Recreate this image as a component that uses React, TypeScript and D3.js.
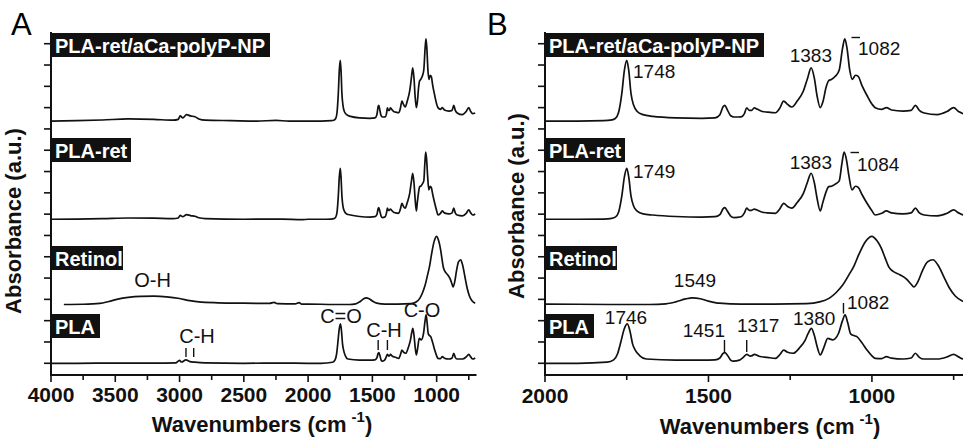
import React from 'react';
import * as d3 from 'd3';

type Pt = [number, number];

// sample names, bottom to top
const sampleNames = ['PLA', 'Retinol', 'PLA-ret', 'PLA-ret/aCa-polyP-NP'];
const sampleOffsets = [0, 2.76, 6.76, 11.37];

// spectra: [wavenumber (cm-1), absorbance above own baseline (a.u.)]
const plaSpectrum: Pt[] = [
  [4000, 0], [3800, 0], [3500, 0.01], [3200, 0.01], [3030, 0.02], [3000, 0.14], [2985, 0.06], [2950, 0.16],
  [2920, 0.08], [2880, 0.05], [2800, 0.02], [2500, 0], [2200, 0.01], [2000, 0], [1900, 0], [1810, 0.05],
  [1790, 0.16], [1778, 0.45], [1768, 1.0], [1758, 1.6], [1748, 1.85], [1740, 1.5], [1732, 0.9], [1724, 0.62],
  [1710, 0.35], [1690, 0.2], [1600, 0.15], [1520, 0.15], [1480, 0.16], [1465, 0.25], [1456, 0.45], [1450, 0.5],
  [1442, 0.38], [1432, 0.15], [1424, 0.1], [1405, 0.15], [1392, 0.3], [1383, 0.42], [1373, 0.34], [1366, 0.36],
  [1360, 0.42], [1345, 0.33], [1320, 0.28], [1295, 0.23], [1282, 0.4], [1270, 0.62], [1258, 0.52], [1241, 0.47],
  [1220, 0.75], [1204, 1.09], [1195, 1.4], [1185, 1.64], [1176, 1.3], [1167, 0.75], [1158, 0.39], [1148, 0.7],
  [1135, 1.17], [1120, 1.1], [1102, 1.41], [1090, 2.0], [1082, 2.27], [1074, 1.9], [1065, 1.38], [1055, 1.3],
  [1046, 1.25], [1030, 0.95], [1015, 0.62], [1000, 0.35], [990, 0.23], [970, 0.22], [956, 0.31], [940, 0.24],
  [905, 0.2], [880, 0.25], [867, 0.47], [855, 0.28], [842, 0.2], [800, 0.2], [770, 0.3], [750, 0.42],
  [735, 0.3], [720, 0.2], [700, 0.25],
];

const retinolSpectrum: Pt[] = [
  [3900, 0], [3750, 0.01], [3620, 0.05], [3550, 0.14], [3480, 0.25], [3400, 0.33], [3300, 0.38], [3200, 0.39],
  [3100, 0.36], [3000, 0.28], [2920, 0.18], [2850, 0.12], [2700, 0.08], [2500, 0.06], [2300, 0.05], [2265, 0.1],
  [2240, 0.04], [2100, 0.03], [2070, 0.09], [2050, 0.02], [2000, 0.02], [1800, 0], [1680, 0], [1630, 0.03],
  [1600, 0.12], [1570, 0.26], [1549, 0.31], [1525, 0.27], [1500, 0.16], [1467, 0.06], [1400, 0.02], [1300, 0.02],
  [1200, 0.04], [1160, 0.12], [1130, 0.3], [1110, 0.55], [1090, 0.9], [1070, 1.4], [1055, 1.8], [1040, 2.35],
  [1020, 2.95], [1000, 3.2], [985, 3.0], [970, 2.6], [960, 2.2], [948, 1.75], [935, 1.55], [915, 1.4],
  [895, 1.2], [880, 0.95], [872, 0.82], [860, 1.05], [845, 1.6], [830, 2.0], [813, 2.1], [798, 1.85],
  [780, 1.3], [762, 0.75], [745, 0.4], [725, 0.17], [700, 0.06],
];

const plaRetSpectrum: Pt[] = [
  [4000, 0], [3800, 0.01], [3600, 0.03], [3400, 0.06], [3200, 0.05], [3050, 0.03], [3010, 0.06], [2995, 0.18],
  [2975, 0.12], [2945, 0.22], [2915, 0.17], [2880, 0.14], [2850, 0.07], [2800, 0.03], [2500, 0], [2200, 0.01],
  [2050, -0.02], [2000, 0], [1900, 0], [1820, 0.01], [1800, 0.03], [1785, 0.1], [1775, 0.33], [1765, 1.1],
  [1757, 2.0], [1750, 2.39], [1744, 2.0], [1737, 1.1], [1729, 0.62], [1718, 0.38], [1700, 0.25], [1670, 0.2],
  [1600, 0.13], [1520, 0.1], [1480, 0.12], [1465, 0.22], [1455, 0.5], [1450, 0.55], [1443, 0.4], [1432, 0.15],
  [1422, 0.08], [1400, 0.12], [1390, 0.3], [1383, 0.52], [1375, 0.42], [1368, 0.42], [1360, 0.48], [1350, 0.42],
  [1335, 0.33], [1320, 0.3], [1295, 0.28], [1282, 0.48], [1270, 0.75], [1258, 0.6], [1245, 0.52], [1228, 0.8],
  [1210, 1.2], [1197, 1.75], [1186, 2.16], [1176, 1.7], [1168, 1.0], [1158, 0.39], [1150, 0.8], [1140, 1.3],
  [1132, 1.53], [1124, 1.55], [1112, 1.65], [1100, 1.8], [1092, 2.6], [1085, 3.15], [1078, 2.8], [1070, 2.0],
  [1061, 1.38], [1050, 1.55], [1042, 1.5], [1030, 1.15], [1015, 0.75], [1000, 0.4], [990, 0.2], [970, 0.28],
  [956, 0.39], [940, 0.3], [905, 0.25], [880, 0.3], [867, 0.52], [855, 0.3], [840, 0.2], [800, 0.16],
  [770, 0.28], [750, 0.44], [735, 0.3], [720, 0.2], [700, 0.25],
];

const compositeSpectrum: Pt[] = [
  [4000, 0], [3800, 0.02], [3600, 0.05], [3400, 0.1], [3200, 0.08], [3050, 0.04], [3010, 0.08], [2995, 0.24],
  [2975, 0.15], [2945, 0.3], [2915, 0.24], [2880, 0.2], [2850, 0.1], [2800, 0.04], [2600, 0.02], [2400, 0],
  [2250, 0.03], [2150, 0], [2000, 0], [1900, 0], [1820, 0.02], [1800, 0.04], [1785, 0.12], [1775, 0.4],
  [1765, 1.3], [1757, 2.4], [1750, 2.85], [1744, 2.4], [1737, 1.3], [1729, 0.75], [1718, 0.45], [1700, 0.3],
  [1670, 0.22], [1600, 0.15], [1520, 0.13], [1480, 0.15], [1465, 0.3], [1455, 0.68], [1450, 0.74], [1443, 0.55],
  [1432, 0.25], [1422, 0.19], [1400, 0.2], [1390, 0.35], [1383, 0.62], [1375, 0.5], [1368, 0.5], [1360, 0.62],
  [1350, 0.55], [1335, 0.45], [1320, 0.42], [1295, 0.39], [1282, 0.6], [1270, 0.94], [1258, 0.78], [1245, 0.66],
  [1228, 0.95], [1210, 1.4], [1197, 2.0], [1186, 2.5], [1176, 2.0], [1168, 1.2], [1158, 0.63], [1150, 0.9],
  [1140, 1.6], [1132, 1.9], [1124, 1.95], [1112, 2.1], [1100, 2.4], [1090, 3.4], [1083, 3.86], [1076, 3.4],
  [1068, 2.4], [1060, 1.96], [1050, 2.15], [1042, 2.1], [1030, 1.65], [1015, 1.2], [1000, 0.8], [990, 0.63],
  [970, 0.55], [956, 0.63], [940, 0.52], [905, 0.47], [880, 0.5], [867, 0.74], [855, 0.5], [840, 0.38],
  [800, 0.3], [770, 0.45], [750, 0.63], [735, 0.45], [720, 0.35], [700, 0.38],
];

const spectra = [plaSpectrum, retinolSpectrum, plaRetSpectrum, compositeSpectrum];

// axis ticks
const majorTicksA = [4000, 3500, 3000, 2500, 2000, 1500, 1000];
const minorTicksA = [3750, 3250, 2750, 2250, 1750, 1250, 750];
const majorTicksB = [2000, 1500, 1000];
const minorTicksB = [1750, 1250, 750];
const yTicks = [0, 1, 2, 3, 4, 5, 6, 7, 8, 9, 10, 11, 12, 13, 14, 15];

const labelWidths = [49, 72, 80, 219];
const labelTops = [314, 246, 138, 33];

const FONT = 'Liberation Sans, Arial, Helvetica, sans-serif';

const yScale = d3.scaleLinear().domain([-0.55, 15.55]).range([375, 32]);
const xA = d3.scaleLinear().domain([4000, 690]).range([51, 476.5]);
const xB = d3.scaleLinear().domain([2000, 700]).range([545, 970]);

function Panel({ id, x, major, minor, letter, letterX, titleX, titleY, yTitleX, yTitleY, tickBaseline }: any) {
  const [x0, x1] = x.range();
  const right = Math.min(x1, 963);
  const line = (off: number) =>
    d3.line<Pt>().x(d => x(d[0])).y(d => yScale(d[1] + off)).curve(d3.curveMonotoneX);
  return (
    <g>
      <defs>
        <clipPath id={'clip' + id}>
          <rect x={x0} y={20} width={right - x0} height={360} />
        </clipPath>
      </defs>
      <text x={letterX} y={35} fontSize={31} fontFamily={FONT}>{letter}</text>
      <g clipPath={`url(#clip${id})`}>
        {spectra.map((s, i) => (
          <path key={i} d={line(sampleOffsets[i])(s) || ''} fill="none" stroke="#111" strokeWidth={1.7} strokeLinejoin="round" />
        ))}
      </g>
      <line x1={x0} x2={x0} y1={32} y2={376} stroke="#111" strokeWidth={2} />
      <line x1={x0 - 1} x2={right} y1={375} y2={375} stroke="#111" strokeWidth={2} />
      {yTicks.map(v => (
        <line key={v} x1={x0 - 7} x2={x0} y1={yScale(v)} y2={yScale(v)} stroke="#111" strokeWidth={1.6} />
      ))}
      {major.map((v: number) => (
        <g key={v}>
          <line x1={x(v)} x2={x(v)} y1={375} y2={382} stroke="#111" strokeWidth={1.6} />
          <text x={x(v)} y={tickBaseline} textAnchor="middle" fontSize={21} fontWeight="bold" fontFamily={FONT} fill="#111">{v}</text>
        </g>
      ))}
      {minor.map((v: number) => (
        <line key={v} x1={x(v)} x2={x(v)} y1={375} y2={380} stroke="#111" strokeWidth={1.6} />
      ))}
      {sampleNames.map((name, i) => (
        <g key={name}>
          <rect x={x0} y={labelTops[i]} width={labelWidths[i]} height={24} fill="#111" />
          <text x={x0 + 4} y={labelTops[i] + 20} fontSize={20} fontWeight="bold" fontFamily={FONT} fill="#fff">{name}</text>
        </g>
      ))}
      <text transform={`translate(${yTitleX},${yTitleY}) rotate(-90)`} textAnchor="middle" fontSize={22} fontWeight="bold" fontFamily={FONT} fill="#111">Absorbance (a.u.)</text>
      <text x={titleX} y={titleY} textAnchor="middle" fontSize={22} fontWeight="bold" fontFamily={FONT} fill="#111">
        Wavenumbers (cm<tspan dx={5} dy={-10} fontSize={15}>-1</tspan><tspan dy={10}>)</tspan>
      </text>
    </g>
  );
}

export default function App() {
  const ann = { fontFamily: FONT, fill: '#111' };
  const tick = { stroke: '#111', strokeWidth: 1.4 };
  return (
    <svg width={963} height={440} style={{ position: 'absolute', left: 0, top: 0, background: '#fff' }}>
      <Panel id="A" x={xA} major={majorTicksA} minor={minorTicksA} letter="A" letterX={11}
        titleX={262} titleY={432} yTitleX={21} yTitleY={221} tickBaseline={401.5} />
      <Panel id="B" x={xB} major={majorTicksB} minor={minorTicksB} letter="B" letterX={487}
        titleX={770} titleY={434} yTitleX={524} yTitleY={206} tickBaseline={403} />

      {/* panel A band labels */}
      <g {...ann} fontSize={20} textAnchor="middle">
        <text x={xA(3210)} y={287}>O-H</text>
        <text x={197} y={343}>C-H</text>
        <line x1={xA(2950)} x2={xA(2950)} y1={348} y2={357} {...tick} />
        <line x1={xA(2890)} x2={xA(2890)} y1={348} y2={357} {...tick} />
        <text x={341} y={323}>C=O</text>
        <text x={384} y={337}>C-H</text>
        <line x1={xA(1455)} x2={xA(1455)} y1={340} y2={350} {...tick} />
        <line x1={xA(1383)} x2={xA(1383)} y1={340} y2={350} {...tick} />
        <text x={422} y={317}>C-O</text>
      </g>

      {/* panel B peak labels */}
      <g {...ann} fontSize={19}>
        <text x={633} y={77.5}>1748</text>
        <text x={832} y={62} textAnchor="end">1383</text>
        <line x1={851.5} x2={860} y1={37.5} y2={37.5} {...tick} />
        <text x={858} y={55}>1082</text>

        <text x={633} y={177.5}>1749</text>
        <text x={832} y={169} textAnchor="end">1383</text>
        <line x1={850.5} x2={859} y1={152.5} y2={152.5} {...tick} />
        <text x={857} y={170.5}>1084</text>

        <text x={695} y={287} textAnchor="middle">1549</text>

        <text x={626} y={323.5} textAnchor="middle">1746</text>
        <text x={725} y={336.5} textAnchor="end">1451</text>
        <line x1={xB(1451)} x2={xB(1451)} y1={340} y2={352} {...tick} />
        <text x={737} y={331.5}>1317</text>
        <line x1={xB(1383)} x2={xB(1383)} y1={340} y2={352} {...tick} />
        <text x={793} y={325}>1380</text>
        <line x1={xB(1087)} x2={xB(1087)} y1={303} y2={313.5} {...tick} />
        <text x={847} y={308.5}>1082</text>
      </g>
    </svg>
  );
}
